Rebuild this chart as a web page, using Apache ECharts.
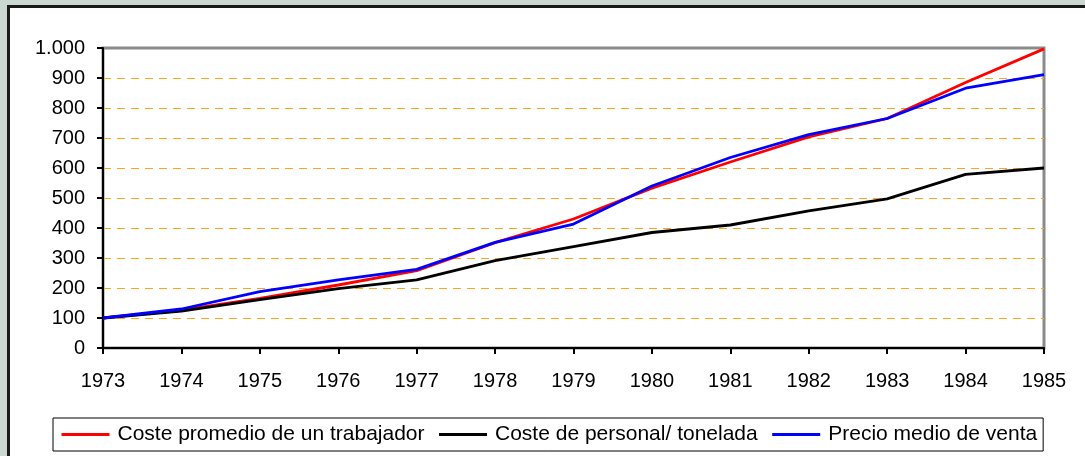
<!DOCTYPE html>
<html>
<head>
<meta charset="utf-8">
<script src="https://cdn.jsdelivr.net/npm/echarts@6/dist/echarts.min.js"></script>
<style>
  body { margin: 0; background: #cbd8d1; overflow: hidden; }
  #frame { position: absolute; left: 7px; top: 5px; width: 1100px; height: 470px;
           background: #fff; border-left: 3px solid #1a1a1a; border-top: 3px solid #1a1a1a; }
  #chart-container { position: absolute; left: 0; top: 0; width: 1085px; height: 456px; }
</style>
</head>
<body>
<div id="frame"></div>
<div id="chart-container"></div>
<script>
var years = ['1973', '1974', '1975', '1976', '1977', '1978', '1979', '1980', '1981', '1982', '1983', '1984', '1985'];
var costeTrabajador = [100, 126, 165, 210, 258, 351, 430, 533, 620, 704, 765, 885, 997];
var costePersonal = [100, 123, 161, 198, 227, 291, 338, 385, 410, 457, 497, 579, 600];
var precioVenta = [100, 130, 188, 227, 262, 352, 413, 540, 635, 711, 765, 866, 911];

var chartDom = document.getElementById('chart-container');
var myChart = echarts.init(chartDom);
var font = 'Liberation Sans, Arial, sans-serif';

function line(name, data, color) {
  return {
    name: name,
    type: 'line',
    data: data,
    symbol: 'none',
    lineStyle: { color: color, width: 2.8 },
    itemStyle: { color: color },
    animation: false
  };
}

var option = {
  backgroundColor: 'transparent',
  textStyle: { fontFamily: font },
  grid: {
    left: 103, right: 41, top: 48, bottom: 108,
    show: true, borderColor: '#8a8a8a', borderWidth: 3
  },
  legend: {
    left: 53, top: 418,
    padding: [6, 6, 6, 7],
    borderColor: '#000', borderWidth: 1,
    backgroundColor: '#fff',
    itemWidth: 48, itemHeight: 14, itemGap: 13,
    itemStyle: { opacity: 0 },
    lineStyle: { width: 3 },
    textStyle: { fontSize: 21, color: '#000', fontFamily: font, padding: [0, 0, 0, 3] },
    data: ['Coste promedio de un trabajador', 'Coste de personal/ tonelada', 'Precio medio de venta']
  },
  xAxis: {
    type: 'category',
    data: years,
    boundaryGap: false,
    axisLine: { lineStyle: { color: '#000', width: 2 } },
    axisTick: { alignWithLabel: true, length: 6, lineStyle: { color: '#000', width: 2 } },
    axisLabel: { color: '#000', fontSize: 20, margin: 23, fontFamily: font },
    splitLine: { show: false }
  },
  yAxis: {
    type: 'value',
    min: 0, max: 1000, interval: 100,
    axisLine: { show: true, lineStyle: { color: '#000', width: 2 } },
    axisTick: { show: true, length: 6, lineStyle: { color: '#000', width: 2 } },
    axisLabel: {
      color: '#000', fontSize: 20, margin: 18, fontFamily: font,
      formatter: function (v) { return v >= 1000 ? '1.' + String(v).slice(1) : String(v); }
    },
    splitLine: {
      show: true, showMinLine: false, showMaxLine: false,
      lineStyle: { color: '#ffa41c', type: [8, 6], width: 1 }
    }
  },
  series: [
    line('Coste promedio de un trabajador', costeTrabajador, '#ff0000'),
    line('Coste de personal/ tonelada', costePersonal, '#000000'),
    line('Precio medio de venta', precioVenta, '#0000ff')
  ]
};

option && myChart.setOption(option);
</script>
</body>
</html>
